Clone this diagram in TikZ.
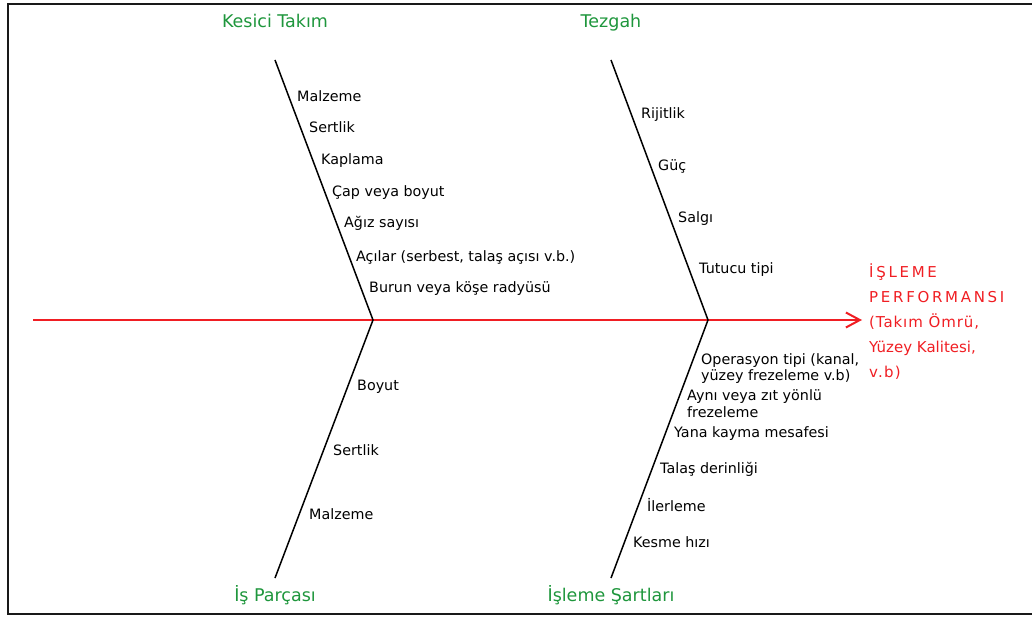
\documentclass[tikz,border=0pt]{standalone}
\usepackage{fontspec}
\setmainfont{DejaVu Sans}
\usetikzlibrary{arrows.meta}
\definecolor{catgreen}{RGB}{30,150,60}
\definecolor{effred}{RGB}{240,30,35}
\tikzset{
  frameline/.style={line width=2pt,draw=black!90},
  bone/.style={line width=1.5pt,draw=black},
  spine/.style={line width=2pt,draw=effred,-{Straight Barb[length=14pt,width=15pt,line width=2pt]}},
  cause/.style={anchor=base west,inner sep=0pt,font=\fontsize{14.3}{16}\selectfont,text=black},
  category/.style={anchor=base,inner sep=0pt,font=\fontsize{17.5}{20}\selectfont,text=catgreen},
  effect/.style={anchor=base west,inner sep=0pt,align=left,font=\fontsize{15}{25}\selectfont,text=effred}
}
\begin{document}
\begin{tikzpicture}[x=1pt,y=-1pt]
\useasboundingbox (0,0) rectangle (1032,617);
\draw[frameline] (1032,4) -- (8,4) -- (8,614) -- (1032,614);

% coordinates
\coordinate (s0) at (33,320);
\coordinate (s1) at (862,320);
\coordinate (j1) at (373,320);
\coordinate (j2) at (708,320);
\coordinate (t1) at (275,60);
\coordinate (t2) at (611,60);
\coordinate (b1) at (275,578);
\coordinate (b2) at (611,578);

% spine (base anchor of a multi-line node = last line's baseline)
\node[effect] (eff) at (869,377) {\addfontfeature{LetterSpace=18}İŞLEME\\\addfontfeature{LetterSpace=18}PERFORMANSI\\\addfontfeature{LetterSpace=6}(Takım Ömrü,\\Yüzey Kalitesi,\\\addfontfeature{LetterSpace=8}v.b)};
\draw[spine] (s0) -- (s1);

% bones
\draw[bone] (t1) -- (j1) -- (b1);
\draw[bone] (t2) -- (j2) -- (b2);

% categories
\node[category] (kt) at (275,28) {Kesici Takım};
\node[category] (tz) at (611,28) {Tezgah};
\node[category] (ip) at (275,601) {İş Parçası};
\node[category] (is) at (611,601) {İşleme Şartları};

% Kesici Takim causes
\node[cause] (k1) at (297,102) {Malzeme};
\node[cause] (k2) at (309,133) {Sertlik};
\node[cause] (k3) at (321,165) {Kaplama};
\node[cause] (k4) at (332,197) {Çap veya boyut};
\node[cause] (k5) at (344,228) {Ağız sayısı};
\node[cause] (k6) at (356,262) {Açılar (serbest, talaş açısı v.b.)};
\node[cause] (k7) at (369,293) {Burun veya köşe radyüsü};

% Tezgah causes
\node[cause] (z1) at (641,119) {Rijitlik};
\node[cause] (z2) at (658,171) {Güç};
\node[cause] (z3) at (678,223) {Salgı};
\node[cause] (z4) at (699,274) {Tutucu tipi};

% Is Parcasi causes
\node[cause] (p1) at (357,390) {Boyut};
\node[cause] (p2) at (333,455) {Sertlik};
\node[cause] (p3) at (309,519) {Malzeme};

% Isleme Sartlari causes
\node[cause,align=left] (c1) at (701,380) {Operasyon tipi (kanal,\\yüzey frezeleme v.b)};
\node[cause,align=left,font=\fontsize{14.3}{17}\selectfont] (c2) at (687,417) {Aynı veya zıt yönlü\\frezeleme};
\node[cause] (c3) at (674,437) {Yana kayma mesafesi};
\node[cause] (c4) at (660,473) {Talaş derinliği};
\node[cause] (c5) at (647,511) {İlerleme};
\node[cause] (c6) at (633,547) {Kesme hızı};
\end{tikzpicture}
\end{document}
